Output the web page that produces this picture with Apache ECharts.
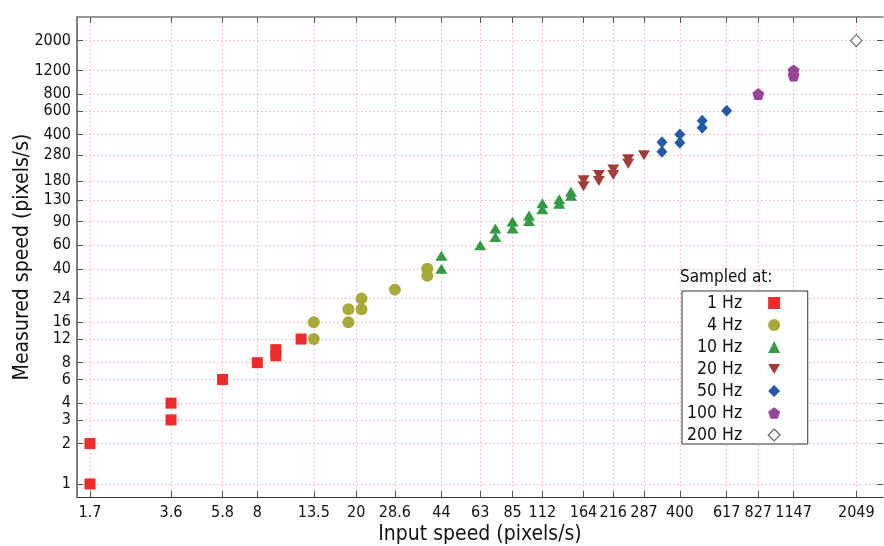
<!DOCTYPE html>
<html><head><meta charset="utf-8">
<script src="https://cdn.jsdelivr.net/npm/echarts@6/dist/echarts.min.js"></script>
<style>html,body{margin:0;padding:0;background:#fff}#c{width:884px;height:546px}</style>
</head><body><div id="c"></div>
<script>
const xTicks = [1.7, 3.6, 5.8, 8, 13.5, 20, 28.6, 44, 63, 85, 112, 164, 216, 287, 400, 617, 827, 1147, 2049];
const yTicks = [1, 2, 3, 4, 6, 8, 12, 16, 24, 40, 60, 90, 130, 180, 280, 400, 600, 800, 1200, 2000];
const seriesNames = ['1 Hz', '4 Hz', '10 Hz', '20 Hz', '50 Hz', '100 Hz', '200 Hz'];
const hz1 = [[1.7,1],[1.7,2],[3.6,3],[3.6,4],[5.8,6],[8,8],[9.5,9],[9.5,10],[12,12]];
const hz4 = [[13.5,12],[13.5,16],[18.6,16],[18.6,20],[21,20],[21,24],[28.6,28],[38.6,35.5],[38.6,40]];
const hz10 = [[44,40],[44,50],[63,60],[72.5,69],[72.5,80],[85,80],[85,90],[99,91],[99,100],[112,111],[112,123],[131,122],[131,132],[146,140],[146,150]];
const hz20 = [[164,165],[164,183],[189,180],[189,200],[216,200],[216,220],[248,242],[248,262],[287,280]];
const hz50 = [[339,298],[339,350],[400,348],[400,400],[492,450],[492,507],[617,600]];
const hz100 = [[827,800],[1147,1100],[1147,1200]];
const hz200 = [[2049,2000]];

const FONT = '"DejaVu Sans Condensed", "Liberation Sans", sans-serif';
const DOWN_TRI = 'path://M0,0L12,0L6,10Z';
const PENTAGON = 'path://M50,0L97.55,34.55L79.39,90.45L20.61,90.45L2.45,34.55Z';
const X_MIN = 1.5074, X_MAX = 2624, Y_MIN = 0.8, Y_MAX = 3000;

const chart = echarts.init(document.getElementById('c'));
const gridLine = { show: true, lineStyle: { color: '#f7b4b4', width: 1, type: [1.5, 2.5] } };
const fmt = v => String(v);

function sc(name, data, symbol, size, color, extra) {
  return Object.assign({
    type: 'scatter', name: name, data: data, symbol: symbol, symbolSize: size,
    itemStyle: { color: color, opacity: 1 }, emphasis: { disabled: true }, z: 3
  }, extra || {});
}

chart.setOption({
  animation: false,
  textStyle: { fontFamily: FONT },
  grid: { left: 77, right: 1, top: 17, bottom: 49, containLabel: false, outerBoundsMode: 'none' },
  title: { text: 'Sampled at:', left: 675, top: 264, padding: 5,
    textStyle: { fontSize: 17, fontWeight: 'normal', color: '#111', fontFamily: FONT } },
  legend: {
    orient: 'vertical', left: 682, top: 291, align: 'right',
    itemWidth: 12, itemHeight: 12, itemGap: 4,
    padding: [3, 27, 0, 5], borderColor: '#333', borderWidth: 1, backgroundColor: '#fff',
    textStyle: { fontSize: 17.5, color: '#111', fontFamily: FONT, padding: [0, 21, 0, 0] },
    data: seriesNames.map((n, i) => i === 6 ? { name: n, itemStyle: { color: '#fff', borderColor: '#444', borderWidth: 1.2 } } : { name: n })
  },
  xAxis: [{
    type: 'log', min: X_MIN, max: X_MAX, position: 'bottom',
    axisLine: { show: true, lineStyle: { color: '#333', width: 1 } },
    axisTick: { show: true, inside: true, length: 6, customValues: xTicks, lineStyle: { color: '#555' } },
    axisLabel: { customValues: xTicks, formatter: fmt, fontSize: 16, color: '#111', margin: 8, fontFamily: FONT },
    splitLine: gridLine, minorTick: { show: false }, minorSplitLine: { show: false },
    name: 'Input speed (pixels/s)', nameLocation: 'middle', nameGap: 27, nameMoveOverlap: false,
    nameTextStyle: { fontSize: 21, color: '#111', fontFamily: FONT }
  }, {
    type: 'log', min: X_MIN, max: X_MAX, position: 'top',
    axisLine: { show: true, lineStyle: { color: '#777', width: 1.5 } },
    axisTick: { show: true, inside: true, length: 6, customValues: xTicks, lineStyle: { color: '#555' } },
    axisLabel: { show: false }, splitLine: { show: false }
  }],
  yAxis: [{
    type: 'log', min: Y_MIN, max: Y_MAX, position: 'left',
    axisLine: { show: true, lineStyle: { color: '#555', width: 1.5 } },
    axisTick: { show: true, inside: true, length: 6, customValues: yTicks, lineStyle: { color: '#555' } },
    axisLabel: { customValues: yTicks, formatter: fmt, fontSize: 16, color: '#111', margin: 6, fontFamily: FONT },
    splitLine: gridLine, minorTick: { show: false }, minorSplitLine: { show: false },
    name: 'Measured speed (pixels/s)', nameLocation: 'middle', nameGap: 44, nameRotate: 90, nameMoveOverlap: false,
    nameTextStyle: { fontSize: 21, color: '#111', fontFamily: FONT }
  }, {
    type: 'log', min: Y_MIN, max: Y_MAX, position: 'right',
    axisLine: { show: false },
    axisTick: { show: true, inside: true, length: 6, customValues: yTicks, lineStyle: { color: '#555' } },
    axisLabel: { show: false }, splitLine: { show: false }
  }],
  series: [
    sc(seriesNames[0], hz1, 'rect', 11, '#ee2a2a'),
    sc(seriesNames[1], hz4, 'circle', 12, '#a9a93a'),
    sc(seriesNames[2], hz10, 'triangle', [12, 10], '#349a45'),
    sc(seriesNames[3], hz20, DOWN_TRI, [12, 10], '#a33b3b'),
    sc(seriesNames[4], hz50, 'diamond', [11, 12], '#2458a8'),
    sc(seriesNames[5], hz100, PENTAGON, 12, '#994499'),
    sc(seriesNames[6], hz200, 'diamond', [11, 12], '#ffffff', { itemStyle: { color: '#fff', borderColor: '#444', borderWidth: 1.2 } })
  ]
});
</script></body></html>
